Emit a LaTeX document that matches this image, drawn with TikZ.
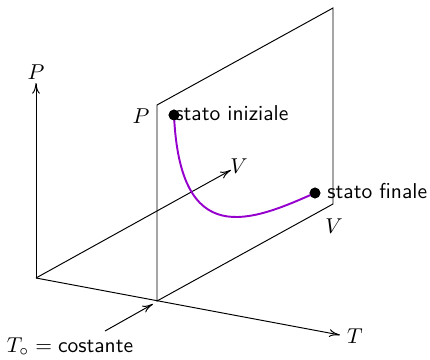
\documentclass[tikz,border=0pt]{standalone}
\usepackage{tikz}
\usetikzlibrary{arrows.meta}
\definecolor{curvecol}{RGB}{150,0,205}
\begin{document}
\begin{tikzpicture}[x=0.465pt,y=-0.465pt,
  >={To[length=5pt,width=3.6pt]},
  axis/.style={line width=0.45pt},
  lbl/.style={inner sep=0pt},
  txt/.style={inner sep=0pt,font=\sffamily},
  dot/.style={circle,fill=black,inner sep=0pt,minimum size=5pt}]
\useasboundingbox (0,0) rectangle (430,359);
% axes
\coordinate (O) at (36,278);
\coordinate (Ptip) at (36,83);
\coordinate (Vtip) at (231,170);
\coordinate (Ttip) at (340,335);
\draw[axis,->] (O) -- (Ptip);
\draw[axis,->] (O) -- (Vtip);
\draw[axis,->] (O) -- (Ttip);
\node[lbl] (Plab) at (36,72) {$P$};
\node[lbl] (Vlab) at (239,166) {$V$};
\node[lbl] (Tlab) at (355,336) {$T$};
% plane
\coordinate (B) at (157,301);
\coordinate (BR) at (333,204);
\coordinate (TL) at (157,105);
\coordinate (TR) at (333,8);
\draw[axis] (B) -- (TL) -- (TR) -- (BR) -- cycle;
\node[lbl] (Pp) at (141,116) {$P$};
\node[lbl] (Vp) at (334,226) {$V$};
% curve
\node[dot] (si) at (174,115) {};
\node[dot] (sf) at (315,193) {};
\draw[curvecol,line width=0.9pt] (si.center) .. controls (180,250) and (250,222) .. (sf.center);
\node[dot] at (si) {};
\node[dot] at (sf) {};
\node[txt,anchor=west] (sil) at (175,113) {stato iniziale};
\node[txt,anchor=west] (sfl) at (327,191) {stato finale};
% constant label
\node[lbl] (cl) at (70,347) {$T_\circ=\textsf{costante}$};
\coordinate (cs) at (105,331);
\draw[axis,->] (cs) -- (153,304);
\end{tikzpicture}
\end{document}
